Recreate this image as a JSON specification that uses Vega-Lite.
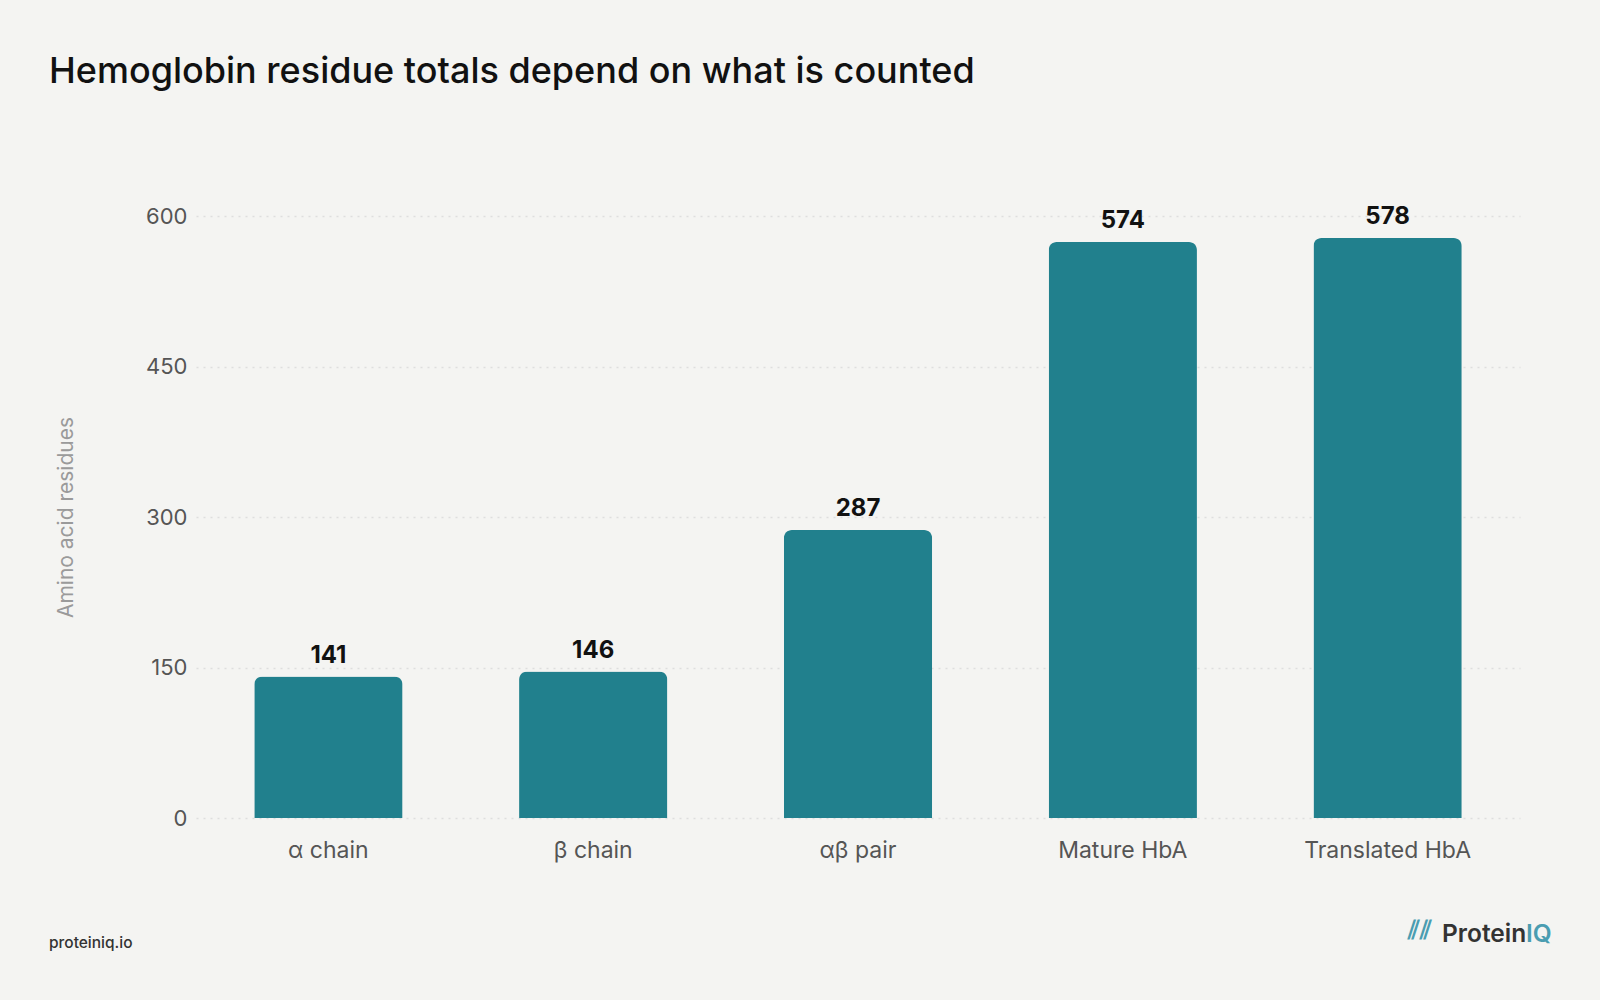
{
  "$schema": "https://vega.github.io/schema/vega-lite/v6.json",
  "autosize": {"type": "none"},
  "width": 1324,
  "height": 602,
  "padding": {"left": 196, "top": 216, "right": 80, "bottom": 182},
  "background": "#F4F4F2",
  "title": {
    "text": "Hemoglobin residue totals depend on what is counted",
    "anchor": "start",
    "frame": "group",
    "dx": -147,
    "offset": 86,
    "baseline": "alphabetic",
    "font": "Inter",
    "fontSize": 36,
    "fontWeight": 500,
    "color": "#111111"
  },
  "config": {
    "view": {"stroke": null},
    "font": "Inter"
  },
  "datasets": {
    "bars": [
      {"label": "α chain", "residues": 141},
      {"label": "β chain", "residues": 146},
      {"label": "αβ pair", "residues": 287},
      {"label": "Mature HbA", "residues": 574},
      {"label": "Translated HbA", "residues": 578}
    ]
  },
  "layer": [
    {
      "data": {"name": "bars"},
      "mark": {"type": "bar", "color": "#21808D", "cornerRadiusTopLeft": 8, "cornerRadiusTopRight": 8},
      "encoding": {
        "x": {
          "field": "label", "type": "nominal", "sort": null,
          "scale": {"paddingInner": 0.44, "paddingOuter": 0.22},
          "axis": {
            "title": null, "labelAngle": 0, "ticks": false, "domain": false,
            "labelFontSize": 23, "labelColor": "#555555", "labelPadding": 21, "grid": false
          }
        },
        "y": {
          "field": "residues", "type": "quantitative",
          "scale": {"domain": [0, 600]},
          "axis": {
            "title": "Amino acid residues", "values": [0, 150, 300, 450, 600],
            "ticks": false, "domain": false,
            "labelFontSize": 22, "labelColor": "#555555", "labelPadding": 9,
            "titleFontSize": 21, "titleFontWeight": 400, "titleColor": "#9a9a9a",
            "titleX": -130, "titleBaseline": "middle",
            "gridColor": "#dedede", "gridDash": [2, 5], "gridWidth": 1.5
          }
        }
      }
    },
    {
      "data": {"name": "bars"},
      "mark": {"type": "text", "dy": -14, "baseline": "alphabetic", "fontSize": 24, "fontWeight": 700, "color": "#111111"},
      "encoding": {
        "x": {"field": "label", "type": "nominal", "sort": null},
        "y": {"field": "residues", "type": "quantitative"},
        "text": {"field": "residues", "type": "quantitative"}
      }
    },
    {
      "data": {"values": [{"t": "proteiniq.io"}]},
      "mark": {"type": "text", "align": "left", "baseline": "alphabetic", "fontSize": 15.5, "fontWeight": 500, "color": "#333333"},
      "encoding": {"x": {"value": -147}, "y": {"value": 732}, "text": {"field": "t"}}
    },
    {
      "data": {"values": [{"t": "Protein"}]},
      "mark": {"type": "text", "align": "left", "baseline": "alphabetic", "fontSize": 24.5, "fontWeight": 600, "color": "#333333"},
      "encoding": {"x": {"value": 1246}, "y": {"value": 726}, "text": {"field": "t"}}
    },
    {
      "data": {"values": [{"t": "IQ"}]},
      "mark": {"type": "text", "align": "left", "baseline": "alphabetic", "fontSize": 24.5, "fontWeight": 600, "color": "#4A9DB1"},
      "encoding": {"x": {"value": 1330}, "y": {"value": 726}, "text": {"field": "t"}}
    },
    {
      "data": {"values": [{"t": "⫽⫽"}]},
      "mark": {"type": "text", "align": "center", "baseline": "middle", "fontSize": 26, "font": "DejaVu Sans", "fontWeight": 700, "color": "#4A9DB1"},
      "encoding": {"x": {"value": 1224}, "y": {"value": 715}, "text": {"field": "t"}}
    }
  ]
}
